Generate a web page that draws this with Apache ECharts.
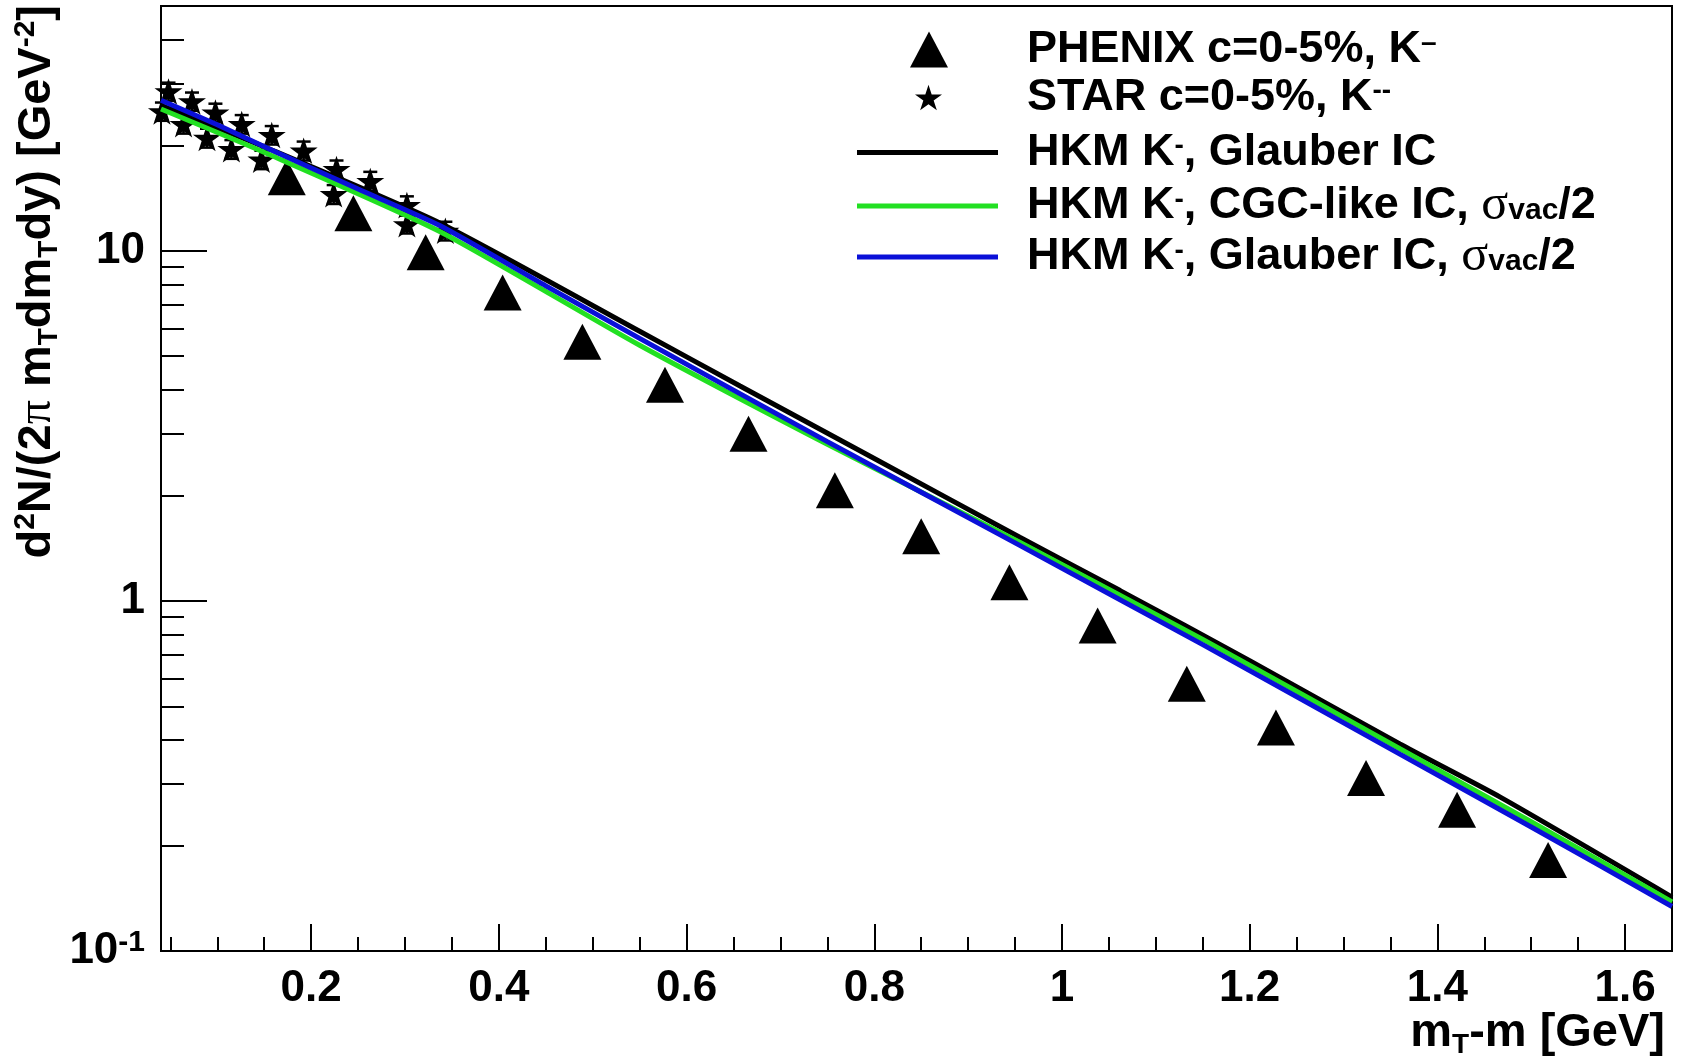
<!DOCTYPE html>
<html><head><meta charset="utf-8">
<script src="https://cdn.jsdelivr.net/npm/echarts@6/dist/echarts.min.js"></script>
<style>html,body{margin:0;padding:0;background:#fff}#c{width:1684px;height:1059px}</style>
</head><body><div id="c"></div>
<script>
// ---- data ----
const phenixX = [0.174,0.245,0.322,0.404,0.489,0.577,0.666,0.758,0.850,0.944,1.038,1.133,1.228,1.324,1.421,1.518];
const phenixY = [16.2,12.8,9.9,7.6,5.5,4.14,3.0,2.07,1.53,1.13,0.85,0.58,0.435,0.312,0.253,0.182];

const starX   = [0.048,0.073,0.098,0.126,0.158,0.192,0.227,0.263,0.302,0.343, 0.041,0.064,0.089,0.115,0.147,0.224,0.302];
const starY   = [28.5,26.7,24.8,23.0,21.4,19.3,17.1,15.8,13.5,11.4, 25.0,23.0,21.0,19.5,18.2,14.5,11.9];
const starErr = [1.7,1.6,1.5,1.4,1.3,1.2,1.0,1.0,0.8,0.7, 1.5,1.4,1.3,1.2,1.1,0.9,0.7];

const glauberX = [0.04,0.156,0.337,0.55,0.657,0.8,0.955,1.062,1.2,1.36,1.467,1.65];
const glauberY = [26.0,19.5,12.0,5.89,4.11,2.55,1.52,1.07,0.675,0.39,0.275,0.1426];

const cgcX = [0.04,0.156,0.337,0.55,0.75,0.955,1.15,1.36,1.5,1.65];
const cgcY = [25.4,18.8,11.35,5.37,2.80,1.47,0.776,0.378,0.234,0.138];

const glauberHalfX = [0.04,0.1,0.156,0.25,0.337,0.45,0.55,0.75,0.955,1.15,1.36,1.5,1.65];
const glauberHalfY = [26.9,22.9,19.5,15.0,11.8,7.94,5.62,2.85,1.44,0.75,0.365,0.226,0.134];

const xTickLabels = [0.2,0.4,0.6,0.8,1.0,1.2,1.4,1.6];
const xMinorTicks = [0.05,0.1,0.15,0.25,0.3,0.35,0.45,0.5,0.55,0.65,0.7,0.75,0.85,0.9,0.95,1.05,1.1,1.15,1.25,1.3,1.35,1.45,1.5,1.55,1.65];
const yTickValues = [0.1,1,10];
const yTickTexts  = ['{n|10}{sup|-1}','{n|1}','{n|10}'];
const yMinorTicks = [0.2,0.3,0.4,0.5,0.6,0.7,0.8,0.9,2,3,4,5,6,7,8,9,20,30,40];

const legendTexts = {
  'PHENIX': '{t|PHENIX c=0-5%, K}{sup|\u2013}',
  'STAR':   '{t|STAR c=0-5%, K}{sup|--}',
  'HKM1':   '{t|HKM K}{sup|-}{t|, Glauber IC}',
  'HKM2':   '{t|HKM K}{sup|-}{t|, CGC-like IC, }{g|\u03c3}{sub|vac}{t|/2}',
  'HKM3':   '{t|HKM K}{sup|-}{t|, Glauber IC, }{g|\u03c3}{sub|vac}{t|/2}'
};

const FONT = 'Liberation Sans, Arial, Helvetica, sans-serif';
const GREEK = 'Liberation Serif, DejaVu Serif, serif';
const starPath = 'path://M100,0L122.45,69.1L195.1,69.1L136.3,111.8L158.8,180.9L100,138.2L41.2,180.9L63.7,111.8L4.9,69.1L77.55,69.1Z';

const legRich = {
  t:   {fontFamily: FONT, fontWeight: 'bold', fontSize: 45, lineHeight: 40, color: '#000'},
  g:   {fontFamily: GREEK, fontWeight: 'normal', fontSize: 50, lineHeight: 40, color: '#000'},
  sup: {fontFamily: FONT, fontWeight: 'bold', fontSize: 28, lineHeight: 22, verticalAlign: 'top', color: '#000'},
  sub: {fontFamily: FONT, fontWeight: 'bold', fontSize: 30, lineHeight: 18, verticalAlign: 'bottom', color: '#000'}
};
const axRich = {
  n:   {fontFamily: FONT, fontWeight: 'bold', fontSize: 44, lineHeight: 46, color: '#000'},
  t:   {fontFamily: FONT, fontWeight: 'bold', fontSize: 47, lineHeight: 52, color: '#000'},
  g:   {fontFamily: GREEK, fontWeight: 'normal', fontSize: 48, lineHeight: 52, color: '#000'},
  sup: {fontFamily: FONT, fontWeight: 'bold', fontSize: 30, lineHeight: 30, verticalAlign: 'top', color: '#000'},
  sub: {fontFamily: FONT, fontWeight: 'bold', fontSize: 28, lineHeight: 26, verticalAlign: 'bottom', color: '#000'}
};

function legendBase(extra, padLeft) {
  return Object.assign({
    orient: 'vertical', selectedMode: false,
    formatter: n => legendTexts[n],
    textStyle: {padding: [0,0,0,padLeft], rich: legRich, fontFamily: FONT, fontSize: 45, fontWeight: 'bold'}
  }, extra);
}
function lineLegend(name, top) {
  return legendBase({data: [{name: name, icon: 'rect'}], left: 852, top: top, itemWidth: 141, itemHeight: 5, symbolKeepAspect: false}, 24);
}

const chart = echarts.init(document.getElementById('c'), null, {renderer: 'canvas'});
const ymaxLog = Math.log10(50);

chart.setOption({
  animation: false,
  backgroundColor: '#fff',
  grid: {left: 161, right: 12, top: 6, bottom: 103, show: true, borderColor: '#000', borderWidth: 2, backgroundColor: 'transparent'},
  legend: [
    legendBase({data: [{name: 'PHENIX', icon: 'triangle'}], left: 905, top: 22, itemWidth: 38, itemHeight: 36, symbolKeepAspect: false}, 74),
    legendBase({data: [{name: 'STAR', icon: starPath}], left: 910, top: 70, itemWidth: 27, itemHeight: 26, symbolKeepAspect: true}, 80),
    lineLegend('HKM1', 125),
    lineLegend('HKM2', 176),
    lineLegend('HKM3', 227)
  ],
  xAxis: [
    {type: 'value', min: 0.04, max: 1.65, position: 'bottom',
     axisLine: {show: true, onZero: false, lineStyle: {color: '#000', width: 2}},
     axisTick: {show: true, inside: true, length: 27, customValues: xTickLabels, lineStyle: {color: '#000', width: 2}},
     axisLabel: {customValues: xTickLabels, margin: 16, color: '#000', fontFamily: FONT, fontWeight: 'bold', fontSize: 44},
     splitLine: {show: false},
     name: '{t|m}{sub|T}{t|-m [GeV]}', nameLocation: 'end', nameGap: -7, nameMoveOverlap: false,
     nameTextStyle: {align: 'right', verticalAlign: 'top', padding: [56,0,0,0], rich: axRich}},
    {type: 'value', min: 0.04, max: 1.65, position: 'bottom',
     axisLine: {show: false, onZero: false},
     axisTick: {show: true, inside: true, length: 14, customValues: xMinorTicks, lineStyle: {color: '#000', width: 2}},
     axisLabel: {show: false}, splitLine: {show: false}}
  ],
  yAxis: [
    {type: 'log', logBase: 10, min: 0.1, max: 50, position: 'left',
     axisLine: {show: true, onZero: false, lineStyle: {color: '#000', width: 2}},
     axisTick: {show: false}, axisLabel: {show: false}, splitLine: {show: false}, minorTick: {show: false},
     name: '{t|d}{sup|2}{t|N/(2}{g|\u03c0}{t| m}{sub|T}{t|dm}{sub|T}{t|dy) [GeV}{sup|-2}{t|]}',
     nameLocation: 'end', nameRotate: 90, nameGap: 1, nameMoveOverlap: false,
     nameTextStyle: {align: 'right', verticalAlign: 'bottom', padding: [0,0,98,0], rich: axRich}},
    {type: 'value', min: -1, max: ymaxLog, position: 'left',
     axisLine: {show: false, onZero: false},
     axisTick: {show: true, inside: true, length: 46, customValues: yTickValues.map(Math.log10), lineStyle: {color: '#000', width: 2}},
     axisLabel: {customValues: yTickValues.map(Math.log10), margin: 16,
       formatter: v => { let i = 0, best = 1e9; yTickValues.forEach((t, k) => { const d = Math.abs(Math.log10(t) - v); if (d < best) { best = d; i = k; } }); return yTickTexts[i]; },
       rich: axRich},
     splitLine: {show: false}},
    {type: 'value', min: -1, max: ymaxLog, position: 'left',
     axisLine: {show: false, onZero: false},
     axisTick: {show: true, inside: true, length: 23, customValues: yMinorTicks.map(Math.log10), lineStyle: {color: '#000', width: 2}},
     axisLabel: {show: false}, splitLine: {show: false}}
  ],
  series: [
    {name: 'PHENIX', type: 'scatter', xAxisIndex: 0, yAxisIndex: 0,
     symbol: 'triangle', symbolSize: [38, 36],
     itemStyle: {color: '#000', opacity: 1},
     data: phenixX.map((x, i) => [x, phenixY[i]])},
    {name: 'STARerr', type: 'custom', xAxisIndex: 0, yAxisIndex: 0,
     encode: {x: 0, y: 1},
     renderItem: (params, api) => {
       const x = api.value(0), y = api.value(1), e = api.value(2);
       const c = api.coord([x, y]);
       const t = api.coord([x, y + e]);
       const b = api.coord([x, y - e]);
       const w = 7;
       const st = {stroke: '#000', lineWidth: 2.5};
       return {type: 'group', children: [
         {type: 'line', shape: {x1: c[0], y1: t[1], x2: c[0], y2: b[1]}, style: st},
         {type: 'line', shape: {x1: c[0] - w, y1: t[1], x2: c[0] + w, y2: t[1]}, style: st},
         {type: 'line', shape: {x1: c[0] - w, y1: b[1], x2: c[0] + w, y2: b[1]}, style: st}
       ]};
     },
     data: starX.map((x, i) => [x, starY[i], starErr[i]])},
    {name: 'STAR', type: 'scatter', xAxisIndex: 0, yAxisIndex: 0,
     symbol: starPath, symbolSize: 28, symbolKeepAspect: true,
     itemStyle: {color: '#000', opacity: 1},
     data: starX.map((x, i) => [x, starY[i]])},
    {name: 'HKM1', type: 'line', xAxisIndex: 0, yAxisIndex: 0, symbol: 'none', smooth: 0.2,
     lineStyle: {color: '#000', width: 5}, itemStyle: {color: '#000'},
     data: glauberX.map((x, i) => [x, glauberY[i]])},
    {name: 'HKM2', type: 'line', xAxisIndex: 0, yAxisIndex: 0, symbol: 'none', smooth: 0.2,
     lineStyle: {color: '#22e022', width: 5}, itemStyle: {color: '#22e022'},
     data: cgcX.map((x, i) => [x, cgcY[i]])},
    {name: 'HKM3', type: 'line', xAxisIndex: 0, yAxisIndex: 0, symbol: 'none', smooth: 0.2,
     lineStyle: {color: '#0a10d8', width: 5}, itemStyle: {color: '#0a10d8'},
     data: glauberHalfX.map((x, i) => [x, glauberHalfY[i]])}
  ]
});
</script>
</body></html>
